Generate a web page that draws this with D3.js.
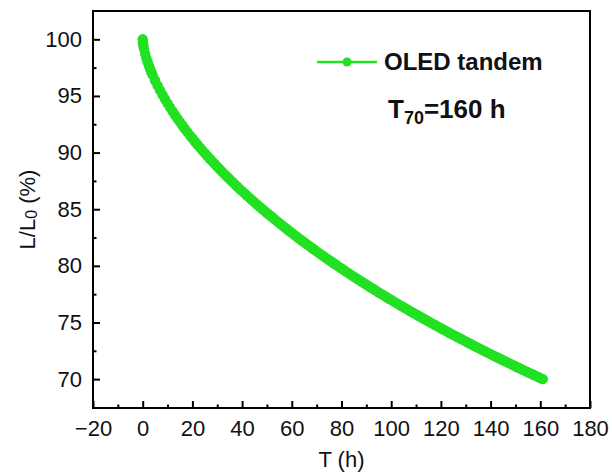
<!DOCTYPE html>
<html>
<head>
<meta charset="utf-8">
<script src="https://cdn.jsdelivr.net/npm/d3@7"></script>
<style>
  body { margin: 0; background: #fff; }
  svg { font-family: "Liberation Sans", Arial, sans-serif; }
</style>
</head>
<body>
<svg width="612" height="473"></svg>
<script>
// Luminance decay of the tandem OLED, L/L0 (%) against time (h)
var hours = [0, 0.1, 0.25, 0.5, 1, 1.5, 2, 2.5, 3, 3.5, 4,
    5, 6, 7, 8, 9, 10, 11, 12, 13, 14,
    15, 16, 17, 18, 19, 20, 21, 22, 23, 24,
    25, 26, 27, 28, 29, 30, 31, 32, 33, 34,
    35, 36, 37, 38, 39, 40, 41, 42, 43, 44,
    45, 46, 47, 48, 49, 50, 51, 52, 53, 54,
    55, 56, 57, 58, 59, 60, 61, 62, 63, 64,
    65, 66, 67, 68, 69, 70, 71, 72, 73, 74,
    75, 76, 77, 78, 79, 80, 81, 82, 83, 84,
    85, 86, 87, 88, 89, 90, 91, 92, 93, 94,
    95, 96, 97, 98, 99, 100, 101, 102, 103, 104,
    105, 106, 107, 108, 109, 110, 111, 112, 113, 114,
    115, 116, 117, 118, 119, 120, 121, 122, 123, 124,
    125, 126, 127, 128, 129, 130, 131, 132, 133, 134,
    135, 136, 137, 138, 139, 140, 141, 142, 143, 144,
    145, 146, 147, 148, 149, 150, 151, 152, 153, 154,
    155, 156, 157, 158, 159, 160, 161];
var luminance = [100, 99.71, 99.48, 99.18, 98.71, 98.32, 97.98, 97.67, 97.38, 97.10, 96.84,
    96.36, 95.91, 95.49, 95.09, 94.71, 94.34, 93.99, 93.65, 93.32, 93.00,
    92.69, 92.39, 92.09, 91.81, 91.52, 91.25, 90.98, 90.71, 90.46, 90.20,
    89.95, 89.70, 89.46, 89.22, 88.99, 88.76, 88.53, 88.30, 88.08, 87.86,
    87.65, 87.43, 87.22, 87.01, 86.80, 86.60, 86.40, 86.20, 86.00, 85.80,
    85.61, 85.42, 85.23, 85.04, 84.85, 84.67, 84.49, 84.31, 84.13, 83.95,
    83.77, 83.60, 83.42, 83.25, 83.08, 82.91, 82.74, 82.57, 82.41, 82.24,
    82.08, 81.92, 81.76, 81.60, 81.44, 81.28, 81.12, 80.97, 80.82, 80.66,
    80.51, 80.36, 80.21, 80.07, 79.91, 79.77, 79.62, 79.47, 79.33, 79.18,
    79.04, 78.90, 78.76, 78.62, 78.48, 78.34, 78.20, 78.06, 77.93, 77.79,
    77.65, 77.52, 77.39, 77.25, 77.12, 76.99, 76.86, 76.73, 76.60, 76.47,
    76.34, 76.22, 76.09, 75.96, 75.84, 75.71, 75.59, 75.46, 75.34, 75.22,
    75.10, 74.97, 74.85, 74.73, 74.61, 74.49, 74.37, 74.26, 74.14, 74.02,
    73.90, 73.79, 73.67, 73.56, 73.44, 73.33, 73.21, 73.10, 72.98, 72.87,
    72.76, 72.65, 72.54, 72.43, 72.32, 72.21, 72.10, 71.99, 71.88, 71.78,
    71.67, 71.56, 71.45, 71.35, 71.24, 71.13, 71.03, 70.92, 70.82, 70.71,
    70.61, 70.51, 70.41, 70.31, 70.20, 70.10, 70.00];
var xTicks = [-20, 0, 20, 40, 60, 80, 100, 120, 140, 160, 180];
var yTicks = [70, 75, 80, 85, 90, 95, 100];
var seriesName = "OLED tandem";

var green = "#22e022";

var svg = d3.select("svg"),
    plotLeft = 93, plotRight = 590, plotTop = 11, plotBottom = 408;

var x = d3.scaleLinear().domain([-20, 180]).range([plotLeft, plotRight]);
var y = d3.scaleLinear().domain([67.45, 102.5]).range([plotBottom, plotTop]);

// minor ticks
svg.append("g")
    .attr("transform", "translate(0," + plotBottom + ")")
    .call(d3.axisBottom(x).tickValues(d3.range(-10, 180, 20)).tickSize(-3.5).tickFormat(""))
    .call(g => g.select(".domain").remove())
    .selectAll("line").attr("stroke-width", 2);

svg.append("g")
    .attr("transform", "translate(" + plotLeft + ",0)")
    .call(d3.axisLeft(y).tickValues(d3.range(72.5, 102, 5)).tickSize(-3.5).tickFormat(""))
    .call(g => g.select(".domain").remove())
    .selectAll("line").attr("stroke-width", 2);

// major ticks
var xAxis = svg.append("g")
    .attr("transform", "translate(0," + plotBottom + ")")
    .call(d3.axisBottom(x).tickValues(xTicks).tickSize(-7).tickPadding(12));
xAxis.select(".domain").remove();
xAxis.selectAll("line").attr("stroke-width", 2);
xAxis.selectAll("text")
    .attr("font-size", "22px")
    .attr("fill", "#111")
    .attr("font-family", "Liberation Sans, Arial, sans-serif");

var yAxis = svg.append("g")
    .attr("transform", "translate(" + plotLeft + ",0)")
    .call(d3.axisLeft(y).tickValues(yTicks).tickSize(-7).tickPadding(11));
yAxis.select(".domain").remove();
yAxis.selectAll("line").attr("stroke-width", 2);
yAxis.selectAll("text")
    .attr("font-size", "22px")
    .attr("fill", "#111")
    .attr("font-family", "Liberation Sans, Arial, sans-serif");

// frame
svg.append("rect")
    .attr("x", plotLeft).attr("y", plotTop)
    .attr("width", plotRight - plotLeft).attr("height", plotBottom - plotTop)
    .attr("fill", "none")
    .attr("stroke", "#000")
    .attr("stroke-width", 2);

// axis titles
svg.append("text")
    .attr("x", (plotLeft + plotRight) / 2)
    .attr("y", 467)
    .attr("text-anchor", "middle")
    .attr("font-size", "22px")
    .attr("fill", "#111")
    .text("T (h)");

var yTitle = svg.append("text")
    .attr("transform", "translate(35," + (plotTop + plotBottom) / 2 + ") rotate(-90)")
    .attr("text-anchor", "middle")
    .attr("font-size", "22px")
    .attr("fill", "#111");
yTitle.append("tspan").text("L/L");
yTitle.append("tspan").attr("font-size", "16px").attr("dy", 2).text("0");
yTitle.append("tspan").attr("dy", -2).text(" (%)");

// data
var data = hours.map((h, i) => ({t: h, l: luminance[i]}));

svg.append("path")
    .datum(data)
    .attr("fill", "none")
    .attr("stroke", green)
    .attr("stroke-width", 2)
    .attr("d", d3.line().x(d => x(d.t)).y(d => y(d.l)));

svg.selectAll(".pt")
    .data(data)
    .enter()
    .append("circle")
    .attr("class", "pt")
    .attr("cx", d => x(d.t))
    .attr("cy", d => y(d.l))
    .attr("r", 5.2)
    .attr("fill", green);

// legend
svg.append("line")
    .attr("x1", 317).attr("x2", 377)
    .attr("y1", 62).attr("y2", 62)
    .attr("stroke", green).attr("stroke-width", 2.5);
svg.append("circle")
    .attr("cx", 347).attr("cy", 62).attr("r", 4.5)
    .attr("fill", green);
svg.append("text")
    .attr("x", 384).attr("y", 70)
    .attr("font-size", "24px")
    .attr("font-weight", "bold")
    .attr("fill", "#111")
    .text(seriesName);

var t70 = svg.append("text")
    .attr("x", 388).attr("y", 118)
    .attr("font-size", "26px")
    .attr("font-weight", "bold")
    .attr("fill", "#111");
t70.append("tspan").text("T");
t70.append("tspan").attr("font-size", "18px").attr("dy", 6).text("70");
t70.append("tspan").attr("dy", -6).text("=160 h");
</script>
</body>
</html>
